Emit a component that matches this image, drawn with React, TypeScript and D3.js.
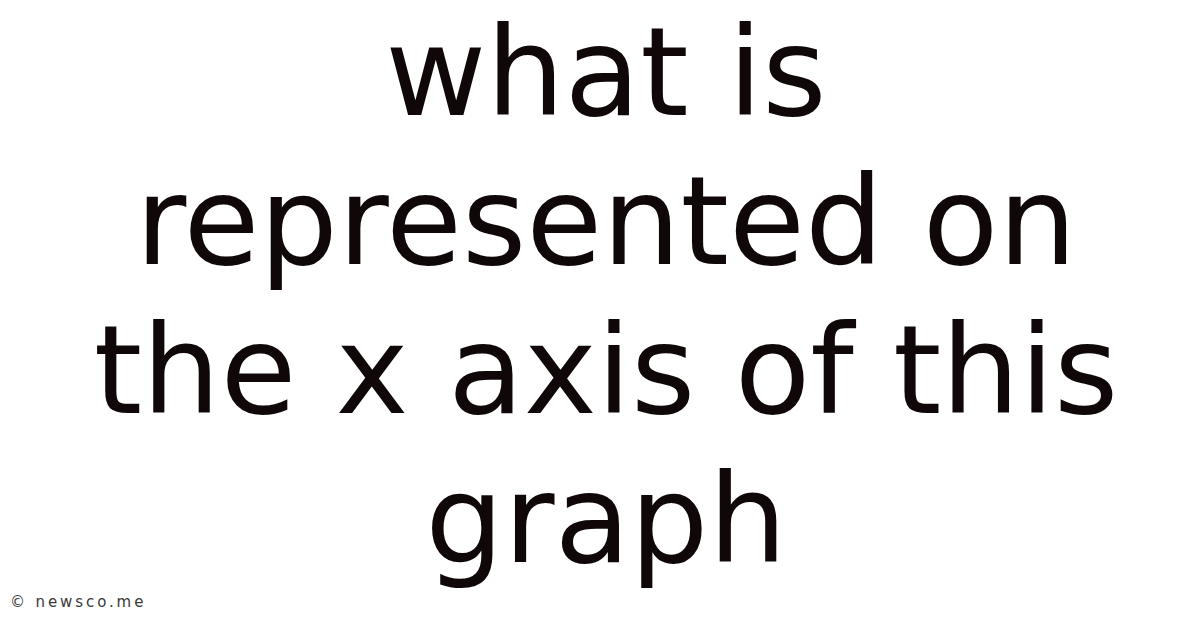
import React, { useEffect, useRef } from "react";
import * as d3 from "d3";

const titleLines: string[] = ["what is", "represented on", "the x axis of this", "graph"];
const watermark: string = "© newsco.me";

export default function App() {
  const ref = useRef<SVGSVGElement | null>(null);

  useEffect(() => {
    const svg = d3.select(ref.current);
    svg.selectAll("*").remove();
    const W = 1200;
    const H = 628;
    svg.append("rect").attr("width", W).attr("height", H).attr("fill", "#ffffff");

    const y = d3
      .scaleLinear()
      .domain([0, titleLines.length - 1])
      .range([115, 562]);

    svg
      .append("g")
      .selectAll("text")
      .data(titleLines)
      .join("text")
      .attr("x", 606)
      .attr("y", (_d, i) => y(i))
      .attr("text-anchor", "middle")
      .attr("font-family", "DejaVu Sans")
      .attr("font-size", 123.5)
      .attr("fill", "#100808")
      .text((d) => d);

    svg
      .append("text")
      .attr("x", 10)
      .attr("y", 607)
      .attr("font-family", "DejaVu Sans")
      .attr("font-size", 15)
      .attr("letter-spacing", 2.9)
      .attr("fill", "#3a3a3a")
      .text(watermark);
  }, []);

  return (
    <svg
      ref={ref}
      width={1200}
      height={628}
      style={{ position: "absolute", left: 0, top: 0, display: "block" }}
    />
  );
}
